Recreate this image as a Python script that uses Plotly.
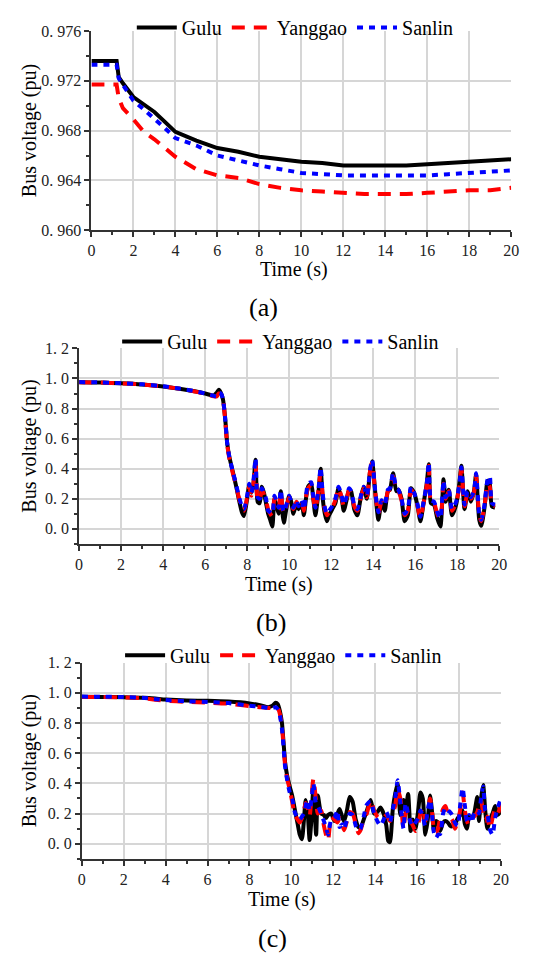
import plotly.graph_objects as go

# ---- panel (a): slow voltage decline ----
t_a = [0, 1.2, 1.3, 1.5, 2, 2.5, 3, 3.5, 4, 5, 6, 7, 8, 9, 10, 11, 12, 13, 14, 15, 16, 17, 18, 19, 20]
gulu_a = [0.9736, 0.9736, 0.9723, 0.9718, 0.9707, 0.9701, 0.9695, 0.9687, 0.9679, 0.9672, 0.9666, 0.9663,
          0.9659, 0.9657, 0.9655, 0.9654, 0.9652, 0.9652, 0.9652, 0.9652, 0.9653, 0.9654, 0.9655, 0.9656, 0.9657]
yanggao_a = [0.9717, 0.9717, 0.9706, 0.9698, 0.9689, 0.9679, 0.9673, 0.9666, 0.9659, 0.9649, 0.9644, 0.9642,
             0.9637, 0.9634, 0.9632, 0.9631, 0.9630, 0.9629, 0.9629, 0.9629, 0.9630, 0.9631, 0.9632, 0.9632, 0.9634]
sanlin_a = [0.9733, 0.9733, 0.9722, 0.9717, 0.9704, 0.9697, 0.9690, 0.9682, 0.9674, 0.9668, 0.9660, 0.9656,
            0.9652, 0.9649, 0.9646, 0.9645, 0.9644, 0.9644, 0.9644, 0.9644, 0.9644, 0.9645, 0.9646, 0.9647, 0.9648]

# ---- panel (b): collapse at ~7 s ----
t_b = [0, 1, 2, 3, 4, 5, 5.5, 6, 6.4, 6.55, 6.65, 6.75, 6.85, 6.95, 7.05, 7.15, 7.3, 7.45, 7.6, 7.75,
       7.85, 8.0, 8.1, 8.2, 8.3, 8.4, 8.5, 8.6, 8.7, 8.8, 8.9, 9.0, 9.1, 9.2, 9.3, 9.4, 9.5, 9.6, 9.7, 9.75,
       9.85, 10.0, 10.1, 10.2, 10.35, 10.45, 10.6, 10.7, 10.8, 10.9, 11.05, 11.15, 11.25, 11.4, 11.5, 11.6, 11.7, 11.8, 11.9, 12.05,
       12.2, 12.35, 12.5, 12.6, 12.75, 12.85, 12.95, 13.1, 13.25, 13.4, 13.55, 13.7, 13.85, 13.95, 14.1, 14.25, 14.4, 14.55, 14.7, 14.8,
       14.95, 15.1, 15.2, 15.35, 15.5, 15.65, 15.8, 15.95, 16.1, 16.25, 16.4, 16.55, 16.65, 16.75, 16.9, 17.05, 17.2, 17.35, 17.45, 17.6,
       17.75, 17.95, 18.1, 18.2, 18.35, 18.5, 18.65, 18.8, 18.9, 19.05, 19.15, 19.3, 19.45, 19.55, 19.65, 19.8]
gulu_b = [0.975, 0.973, 0.968, 0.96, 0.947, 0.927, 0.915, 0.9, 0.886, 0.905, 0.925, 0.905, 0.86, 0.74, 0.57, 0.48, 0.39, 0.3, 0.2, 0.11,
          0.085, 0.2, 0.29, 0.24, 0.3, 0.46, 0.18, 0.17, 0.28, 0.24, 0.17, 0.1, 0.06, 0.015, 0.2, 0.15, 0.1, 0.25, 0.08, 0.04,
          0.12, 0.22, 0.18, 0.1, 0.17, 0.13, 0.17, 0.09, 0.2, 0.28, 0.3, 0.2, 0.09, 0.25, 0.4, 0.2, 0.1, 0.05, 0.09, 0.13,
          0.17, 0.27, 0.2, 0.12, 0.2, 0.26, 0.25, 0.13, 0.09, 0.2, 0.28, 0.2, 0.38, 0.45, 0.24, 0.06, 0.18, 0.12, 0.25, 0.26,
          0.37, 0.25, 0.26, 0.2, 0.05, 0.09, 0.27, 0.24, 0.16, 0.05, 0.17, 0.3, 0.43, 0.17, 0.16, 0.07, 0.015, 0.33, 0.18, 0.26,
          0.09, 0.16, 0.3, 0.42, 0.13, 0.25, 0.18, 0.25, 0.36, 0.06, 0.02, 0.14, 0.32, 0.3, 0.15, 0.14]
yanggao_b = [0.975, 0.973, 0.968, 0.96, 0.947, 0.927, 0.914, 0.898, 0.882, 0.88, 0.9, 0.895, 0.86, 0.73, 0.56, 0.47, 0.38, 0.3, 0.21, 0.14,
             0.12, 0.21, 0.28, 0.22, 0.3, 0.44, 0.2, 0.19, 0.26, 0.23, 0.19, 0.13, 0.1, 0.08, 0.2, 0.17, 0.13, 0.24, 0.12, 0.1,
             0.14, 0.21, 0.17, 0.13, 0.18, 0.15, 0.18, 0.12, 0.21, 0.27, 0.29, 0.2, 0.13, 0.26, 0.38, 0.22, 0.13, 0.09, 0.11, 0.14,
             0.19, 0.27, 0.21, 0.15, 0.21, 0.26, 0.24, 0.15, 0.12, 0.2, 0.27, 0.21, 0.38, 0.44, 0.24, 0.1, 0.18, 0.15, 0.25, 0.26,
             0.35, 0.26, 0.25, 0.19, 0.09, 0.12, 0.26, 0.23, 0.16, 0.07, 0.17, 0.29, 0.42, 0.18, 0.17, 0.1, 0.06, 0.3, 0.2, 0.25,
             0.12, 0.17, 0.28, 0.4, 0.15, 0.24, 0.2, 0.24, 0.35, 0.09, 0.05, 0.15, 0.3, 0.28, 0.16, 0.15]
sanlin_b = [0.976, 0.974, 0.969, 0.961, 0.948, 0.928, 0.916, 0.9, 0.885, 0.88, 0.905, 0.9, 0.865, 0.74, 0.57, 0.48, 0.39, 0.31, 0.22, 0.15,
            0.13, 0.22, 0.3, 0.24, 0.32, 0.47, 0.21, 0.2, 0.27, 0.24, 0.2, 0.12, 0.11, 0.1, 0.22, 0.18, 0.14, 0.26, 0.13, 0.11,
            0.15, 0.22, 0.18, 0.14, 0.19, 0.15, 0.19, 0.13, 0.22, 0.3, 0.31, 0.21, 0.14, 0.27, 0.41, 0.23, 0.14, 0.1, 0.12, 0.15,
            0.2, 0.28, 0.22, 0.16, 0.22, 0.27, 0.25, 0.16, 0.13, 0.21, 0.28, 0.22, 0.39, 0.46, 0.25, 0.11, 0.19, 0.16, 0.26, 0.27,
            0.37, 0.27, 0.26, 0.2, 0.1, 0.13, 0.28, 0.24, 0.17, 0.08, 0.18, 0.3, 0.44, 0.19, 0.18, 0.11, 0.07, 0.32, 0.21, 0.26,
            0.13, 0.18, 0.29, 0.41, 0.16, 0.25, 0.21, 0.25, 0.37, 0.1, 0.06, 0.16, 0.33, 0.35, 0.17, 0.16]

# ---- panel (c): collapse at ~9.6 s ----
t_c = [0, 1, 2, 3, 3.5, 4, 5, 6, 7, 8,
       8.5, 8.9, 9.1, 9.25, 9.35, 9.45, 9.55, 9.62, 9.7, 9.8,
       9.92, 10.05, 10.16, 10.3, 10.4, 10.5, 10.6, 10.68, 10.77, 10.87,
       10.95, 11.05, 11.18, 11.26, 11.42, 11.55, 11.65, 11.75, 11.9, 12.05,
       12.2, 12.3, 12.44, 12.52, 12.65, 12.78, 12.92, 13.07, 13.2, 13.3,
       13.45, 13.6, 13.78, 13.95, 14.1, 14.25, 14.4, 14.53, 14.62, 14.7,
       14.84, 14.95, 15.07, 15.2, 15.35, 15.45, 15.57, 15.69, 15.8, 15.92,
       16.05, 16.16, 16.27, 16.39, 16.5, 16.62, 16.72, 16.8, 16.9, 17.0,
       17.1, 17.24, 17.35, 17.47, 17.57, 17.67, 17.8, 17.94, 18.05, 18.17,
       18.28, 18.38, 18.48, 18.6, 18.72, 18.87, 18.95, 19.05, 19.15, 19.25,
       19.35, 19.47, 19.6, 19.72, 19.85, 20.0]
gulu_c = [0.974, 0.973, 0.971, 0.967, 0.962, 0.956, 0.949, 0.947, 0.942, 0.93,
          0.918, 0.905, 0.915, 0.935, 0.925, 0.88, 0.8, 0.68, 0.54, 0.45,
          0.38, 0.31, 0.23, 0.13, 0.06, 0.03, 0.16, 0.29, 0.22, 0.025,
          0.15, 0.37, 0.06, 0.32, 0.2, 0.19, 0.17, 0.19, 0.2, 0.15,
          0.2, 0.23, 0.17, 0.15, 0.22, 0.31, 0.28, 0.16, 0.11, 0.105,
          0.16, 0.22, 0.29, 0.2, 0.21, 0.24, 0.2, 0.12, 0.02, 0.01,
          0.23, 0.33, 0.4, 0.19, 0.29, 0.22, 0.33, 0.085, 0.16, 0.1,
          0.22, 0.34, 0.3, 0.06, 0.15, 0.32, 0.2, 0.085, 0.15, 0.14,
          0.085, 0.14, 0.15, 0.14, 0.12, 0.115, 0.13, 0.17, 0.19, 0.22,
          0.13, 0.1, 0.18, 0.17, 0.2, 0.31, 0.15, 0.3, 0.39, 0.22,
          0.1, 0.16, 0.2, 0.25, 0.19, 0.22]
yanggao_c = [0.973, 0.972, 0.97, 0.963, 0.955, 0.948, 0.94, 0.935, 0.928, 0.912,
             0.905, 0.9, 0.9, 0.91, 0.9, 0.86, 0.77, 0.66, 0.52, 0.43,
             0.36, 0.27, 0.19, 0.16, 0.14, 0.17, 0.22, 0.27, 0.24, 0.18,
             0.3, 0.43, 0.28, 0.2, 0.22, 0.12, 0.06, 0.02, 0.18, 0.16,
             0.14, 0.17, 0.12, 0.09, 0.15, 0.21, 0.2, 0.13, 0.07, 0.09,
             0.16, 0.2, 0.29, 0.22, 0.18, 0.16, 0.17, 0.19, 0.17, 0.15,
             0.2, 0.25, 0.36, 0.3, 0.1, 0.2, 0.22, 0.15, 0.12, 0.085,
             0.13, 0.2, 0.24, 0.15, 0.2, 0.3, 0.2, 0.095, 0.07, 0.1,
             0.17, 0.23, 0.25, 0.2, 0.18, 0.16, 0.1, 0.15, 0.22, 0.34,
             0.22, 0.15, 0.12, 0.17, 0.18, 0.21, 0.25, 0.29, 0.2, 0.15,
             0.18, 0.1, 0.17, 0.23, 0.2, 0.27]
sanlin_c = [0.975, 0.974, 0.972, 0.966, 0.958, 0.952, 0.944, 0.94, 0.932, 0.915,
            0.908, 0.9, 0.9, 0.905, 0.89, 0.85, 0.76, 0.65, 0.51, 0.42,
            0.34, 0.29, 0.21, 0.17, 0.16, 0.18, 0.2, 0.25, 0.29, 0.22,
            0.28, 0.4, 0.26, 0.25, 0.2, 0.15, 0.11, 0.06, 0.16, 0.17,
            0.22, 0.11, 0.13, 0.1, 0.16, 0.2, 0.19, 0.12, 0.09, 0.1,
            0.18, 0.26, 0.28, 0.2, 0.15, 0.12, 0.16, 0.21, 0.18, 0.14,
            0.23, 0.3, 0.42, 0.27, 0.1, 0.27, 0.2, 0.14, 0.115, 0.14,
            0.17, 0.22, 0.18, 0.12, 0.22, 0.29, 0.18, 0.075, 0.04, 0.06,
            0.065, 0.2, 0.24, 0.22, 0.21, 0.19, 0.14, 0.12, 0.25, 0.37,
            0.25, 0.15, 0.19, 0.14, 0.2, 0.22, 0.2, 0.3, 0.38, 0.22,
            0.2, 0.095, 0.06, 0.17, 0.24, 0.3]

for t, ys in [(t_a, [gulu_a, yanggao_a, sanlin_a]), (t_b, [gulu_b, yanggao_b, sanlin_b]), (t_c, [gulu_c, yanggao_c, sanlin_c])]:
    for y in ys:
        assert len(t) == len(y), (len(t), len(y))

names = ['Gulu', 'Yanggao', 'Sanlin']
colors = ['#000000', '#ff0000', '#0000ff']
dashes = ['solid', '13px,9px', '6px,6px']

x_ticks = list(range(0, 21, 2))
ya_ticks = [0.960, 0.964, 0.968, 0.972, 0.976]
ya_text = ['0. 960', '0. 964', '0. 968', '0. 972', '0. 976']
yb_ticks = [0, 0.2, 0.4, 0.6, 0.8, 1.0, 1.2]
yb_text = ['0. 0', '0. 2', '0. 4', '0. 6', '0. 8', '1. 0', '1. 2']

# the page keeps the browser's 8px body margin, so the figure is 16px smaller than the window
PAD = 8
W, H = 536 - 2 * PAD, 970 - 2 * PAD
FONT = '"Liberation Serif", "Times New Roman", serif'
AXC = '#333333'

def fx(px):
    return (px - PAD) / W

def fy(py):
    return 1 - (py - PAD) / H

fig = go.Figure()

panels = [
    # (t, series, axis suffix, legend id, line shape)
    (t_a, [gulu_a, yanggao_a, sanlin_a], '', 'legend', 'linear'),
    (t_b, [gulu_b, yanggao_b, sanlin_b], '2', 'legend2', 'spline'),
    (t_c, [gulu_c, yanggao_c, sanlin_c], '3', 'legend3', 'spline'),
]
for t, series, sfx, leg, shape in panels:
    for name, y, c, d in zip(names, series, colors, dashes):
        fig.add_trace(go.Scatter(x=t, y=y, name=name, mode='lines', xaxis='x' + sfx, yaxis='y' + sfx,
                                 legend=leg, line=dict(color=c, width=4, dash=d, shape=shape, smoothing=0.6)))

# pixel boxes (in window pixels) for each panel: left, right, top, bottom
boxes = [(89.3, 519.0, 17.3, 221.3), (76.7, 506.7, 342.5, 542.7), (79.5, 508.5, 664.5, 865.5)]

def xax(box, anchor):
    l, r, tp, b = box
    return dict(domain=[fx(l), fx(r)], anchor=anchor, range=[0, 20], tickvals=x_ticks, ticks='outside', ticklen=5, tickwidth=1.5,
                tickcolor=AXC, minor=dict(dtick=1, tick0=0, ticks='outside', ticklen=3, tickwidth=1.5, tickcolor=AXC, showgrid=False),
                showline=True, linecolor=AXC, linewidth=2, showgrid=True, gridcolor='#d6d6d6', gridwidth=1.5,
                zeroline=False, tickfont=dict(family=FONT, size=16, color='#222'), fixedrange=True)

def yax(box, anchor, rng, vals, text, minor_dtick, tick0):
    l, r, tp, b = box
    return dict(domain=[fy(b), fy(tp)], anchor=anchor, range=rng, tickmode='array', tickvals=vals, ticktext=text,
                ticks='outside', ticklen=5, tickwidth=1.5, tickcolor=AXC,
                minor=dict(dtick=minor_dtick, tick0=tick0, ticks='outside', ticklen=3, tickwidth=1.5, tickcolor=AXC, showgrid=False),
                showline=True, linecolor=AXC, linewidth=2, showgrid=True, gridcolor='#d6d6d6', gridwidth=1.5,
                zeroline=False, tickfont=dict(family=FONT, size=16, color='#222'), fixedrange=True)

legend_pos = [(298, 13.7), (283, 335.4), (286, 657)]

def leg(pos):
    cx, cy = pos
    return dict(orientation='h', x=fx(cx), y=fy(cy), xanchor='center', yanchor='middle',
                font=dict(family=FONT, size=20, color='#000'), bgcolor='rgba(0,0,0,0)',
                itemwidth=40, tracegroupgap=0)

fig.update_layout(
    width=W, height=H, margin=dict(l=0, r=0, t=0, b=0),
    font=dict(family=FONT, color='#000'),
    paper_bgcolor='white', plot_bgcolor='white',
    xaxis=xax(boxes[0], 'y'), xaxis2=xax(boxes[1], 'y2'), xaxis3=xax(boxes[2], 'y3'),
    yaxis=yax(boxes[0], 'x', [0.960, 0.976], ya_ticks, ya_text, 0.002, 0.960),
    yaxis2=yax(boxes[1], 'x2', [-0.1, 1.2], yb_ticks, yb_text, 0.1, 0),
    yaxis3=yax(boxes[2], 'x3', [-0.1, 1.2], yb_ticks, yb_text, 0.1, 0),
    legend=leg(legend_pos[0]), legend2=leg(legend_pos[1]), legend3=leg(legend_pos[2]),
)

# axis titles and panel captions
ann = []
title_x = [296.6, 281, 284.6]
title_y = [262, 584, 907]
cap_x = [265, 273, 274.5]
cap_y = [301, 623, 947]
for i, box in enumerate(boxes):
    l, r, tp, b = box
    ann.append(dict(text='Bus voltage (pu)', x=fx(26), y=fy((tp + b) / 2), xref='paper', yref='paper',
                    textangle=-90, showarrow=False, xanchor='center', yanchor='middle',
                    font=dict(family=FONT, size=20, color='#000')))
    ann.append(dict(text='Time (s)', x=fx(title_x[i]), y=fy(title_y[i]), xref='paper', yref='paper',
                    showarrow=False, xanchor='center', yanchor='middle', font=dict(family=FONT, size=20, color='#000')))
    ann.append(dict(text='(' + 'abc'[i] + ')', x=fx(cap_x[i]), y=fy(cap_y[i]), xref='paper', yref='paper',
                    showarrow=False, xanchor='center', yanchor='middle', font=dict(family=FONT, size=26, color='#000')))
fig.update_layout(annotations=ann)

fig.write_html("out.html", config={'displayModeBar': False})
